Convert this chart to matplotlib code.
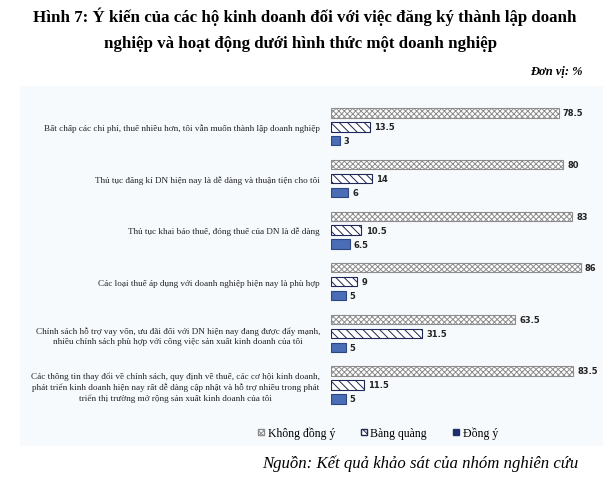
import matplotlib.pyplot as plt
import matplotlib.patches as mpatches
import numpy as np

# data (%)
categories = [
    "Bất chấp các chi phí, thuế nhiều hơn, tôi vẫn muốn thành lập doanh nghiệp",
    "Thủ tục đăng kí DN hiện nay là dễ dàng và thuận tiện cho tôi",
    "Thủ tục khai báo thuế, đóng thuế của DN là dễ dàng",
    "Các loại thuế áp dụng với doanh nghiệp hiện nay là phù hợp",
    "Chính sách hỗ trợ vay vốn, ưu đãi đối với DN hiện nay đang được đẩy mạnh,\nnhiều chính sách phù hợp với công việc sản xuất kinh doanh của tôi",
    "Các thông tin thay đổi về chính sách, quy định về thuế, các cơ hội kinh doanh,\nphát triển kinh doanh hiện nay rất dễ dàng cập nhật và hỗ trợ nhiều trong phát\ntriển thị trường mở rộng sản xuất kinh doanh của tôi",
]
khong_dong_y = [78.5, 80, 83, 86, 63.5, 83.5]
bang_quang = [13.5, 14, 10.5, 9, 31.5, 11.5]
dong_y = [3, 6, 6.5, 5, 5, 5]
series_names = ["Không đồng ý", "Bàng quàng", "Đồng ý"]

plt.rcParams['font.family'] = ['Liberation Serif', 'DejaVu Serif']
plt.rcParams['hatch.linewidth'] = 0.7

fig = plt.figure(figsize=(6.09, 4.89), dpi=100)

# light panel behind the chart
bg = fig.add_axes([20 / 609, 1 - 447 / 489, 583 / 609, 360 / 489], zorder=-5)
bg.set_facecolor('#F7FAFD')
bg.set_xticks([])
bg.set_yticks([])
for s in bg.spines.values():
    s.set_visible(False)

ax = fig.add_axes([331 / 609, 1 - 420 / 489, 270 / 609, 320 / 489])
ax.patch.set_alpha(0)

y = np.arange(len(categories))
off = 0.27
h = 0.18
b1 = ax.barh(y - off, khong_dong_y, height=h, color='white', edgecolor='#8C8C8C',
             hatch='xxxxxx', linewidth=0.8)
b2 = ax.barh(y, bang_quang, height=h, color='white', edgecolor='#1E2757',
             hatch='\\\\\\\\', linewidth=0.8)
b3 = ax.barh(y + off, dong_y, height=h, color='#4A6DB5', edgecolor='#2C4683',
             linewidth=0.8)

for bars, vals in [(b1, khong_dong_y), (b2, bang_quang), (b3, dong_y)]:
    for bar, v in zip(bars, vals):
        ax.text(v + 1.4, bar.get_y() + bar.get_height() / 2, f"{v:g}",
                va='center', ha='left', fontsize=6, fontweight='bold',
                family='DejaVu Sans', color='#222222')

ax.set_xlim(0, 93)
ax.set_ylim(5.66, -0.54)
ax.set_yticks(y)
ax.set_yticklabels(categories, fontsize=6.55, multialignment='center',
                   linespacing=1.35, color='#222222')
ax.tick_params(axis='y', length=0, pad=8)
ax.set_xticks([])
for s in ax.spines.values():
    s.set_visible(False)

# legend
handles = [mpatches.Patch(facecolor='white', edgecolor='#8C8C8C', hatch='xxxxxx'),
           mpatches.Patch(facecolor='white', edgecolor='#1E2757', hatch='\\\\\\\\'),
           mpatches.Patch(facecolor='#1F2F6E', edgecolor='#1F2F6E')]
fig.legend(handles, series_names, loc='center', bbox_to_anchor=(378 / 609, 1 - 434 / 489),
           ncol=3, frameon=False, fontsize=8.5, handlelength=0.5, handleheight=0.5,
           handletextpad=0.3, columnspacing=2.2)

# titles and notes
fig.text(0.5, 1 - 17 / 489, "Hình 7: Ý kiến của các hộ kinh doanh đối với việc đăng ký thành lập doanh",
         ha='center', va='center', fontsize=12.15, fontweight='bold')
fig.text(301 / 609, 1 - 44 / 489, "nghiệp và hoạt động dưới hình thức một doanh nghiệp",
         ha='center', va='center', fontsize=12.15, fontweight='bold')
fig.text(583 / 609, 1 - 72 / 489, "Đơn vị: %", ha='right', va='center', fontsize=9,
         fontweight='bold', style='italic')
fig.text(262 / 609, 1 - 464 / 489, "Nguồn: Kết quả khảo sát của nhóm nghiên cứu",
         ha='left', va='center', fontsize=12.1, style='italic')

fig.savefig('out.png', dpi=100)
